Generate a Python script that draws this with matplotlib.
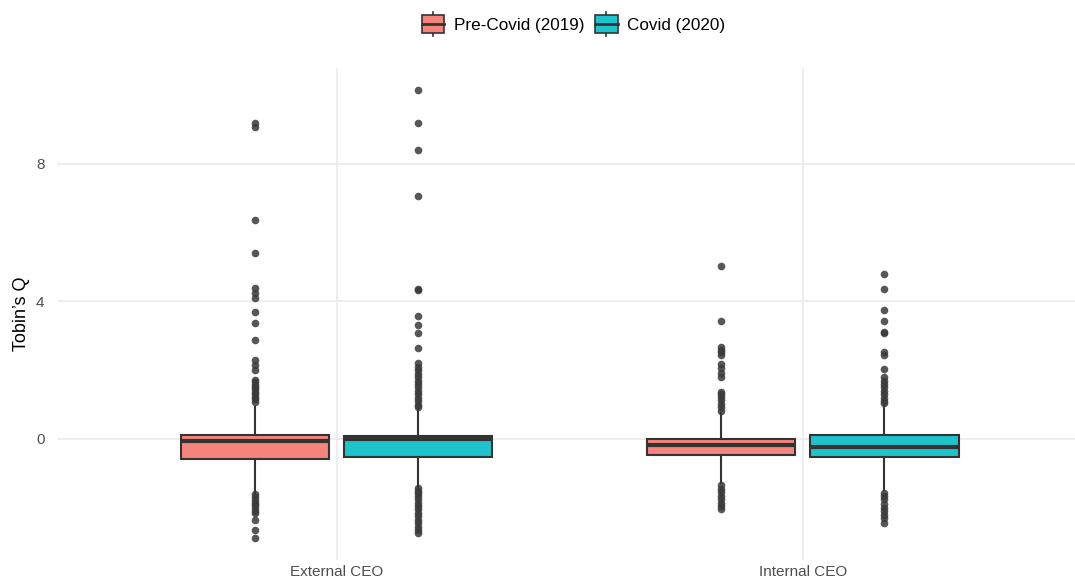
import matplotlib
matplotlib.use("Agg")
import matplotlib.pyplot as plt
from matplotlib.legend_handler import HandlerBase
from matplotlib.patches import Rectangle
from matplotlib.lines import Line2D

plt.rcParams["font.family"] = ["Liberation Sans", "DejaVu Sans"]

# Groups and periods.
groups = ["External CEO", "Internal CEO"]
periods = ["Pre-Covid (2019)", "Covid (2020)"]
colors = ["#F5847C", "#1EC4CB"]

# Box summaries: lower whisker, Q1, median, Q3, upper whisker.
ext_pre_box = [-1.57, -0.58, -0.06, 0.11, 0.93]
ext_cov_box = [-1.39, -0.52, 0.00, 0.08, 0.86]
int_pre_box = [-1.29, -0.47, -0.17, 0.01, 0.77]
int_cov_box = [-1.48, -0.52, -0.23, 0.11, 1.02]

# Outliers.
ext_pre_out = [9.19, 9.07, 6.37, 5.42, 4.38, 4.25, 4.10, 3.70, 3.37, 2.88,
               2.30, 2.15, 2.00, 1.72, 1.65, 1.58, 1.52, 1.45, 1.38, 1.30,
               1.22, 1.15, 1.08,
               -1.60, -1.70, -1.78, -1.85, -1.92, -2.00, -2.08, -2.15,
               -2.35, -2.65, -2.88]
ext_cov_out = [10.15, 9.20, 8.40, 7.07, 4.36, 4.32, 3.57, 3.31, 3.08, 2.64,
               2.20, 2.10, 2.00, 1.90, 1.80, 1.70, 1.60, 1.50, 1.40, 1.30,
               1.20, 1.10, 1.00, 0.92,
               -1.42, -1.50, -1.58, -1.66, -1.75, -1.85, -1.95, -2.05,
               -2.15, -2.25, -2.35, -2.45, -2.55, -2.65, -2.73]
int_pre_out = [5.03, 3.42, 2.68, 2.60, 2.52, 2.44, 2.18, 2.05, 1.92, 1.80,
               1.38, 1.30, 1.22, 1.12, 1.02, 0.92, 0.82,
               -1.34, -1.45, -1.55, -1.65, -1.75, -1.85, -1.95, -2.05]
int_cov_out = [4.80, 4.35, 3.75, 3.43, 3.12, 3.08, 2.54, 2.44, 2.03, 1.80,
               1.70, 1.60, 1.50, 1.40, 1.30, 1.20, 1.10, 1.04,
               -1.57, -1.65, -1.75, -1.90, -2.00, -2.10, -2.20, -2.30, -2.44]

yticks = [0, 4, 8]


def make_stats(box, out):
    lo, q1, med, q3, hi = box
    return dict(whislo=lo, q1=q1, med=med, q3=q3, whishi=hi, fliers=out)


class BoxKeyHandler(HandlerBase):
    """Draws a small boxplot glyph as legend key."""

    def __init__(self, color):
        super().__init__()
        self.color = color

    def create_artists(self, legend, orig_handle, xdescent, ydescent,
                       width, height, fontsize, trans):
        cx = width / 2 - xdescent
        bw = width * 0.95
        top = height * 1.2 - ydescent
        bot = -height * 0.2 - ydescent
        stub = height * 0.17
        rect = Rectangle((cx - bw / 2, bot + stub), bw,
                         (top - bot) - 2 * stub,
                         facecolor=self.color, edgecolor="#333333",
                         lw=1.2, transform=trans)
        whisk = Line2D([cx, cx], [bot, top], color="#333333", lw=1.2,
                       transform=trans)
        mid = (top + bot) / 2
        med = Line2D([cx - bw / 2, cx + bw / 2], [mid, mid],
                     color="#333333", lw=2, transform=trans)
        return [whisk, rect, med]


fig = plt.figure(figsize=(10.75, 5.88), dpi=100)
ax = fig.add_axes([0.053, 0.047, 0.954, 0.838])

offset = 0.175
width = 0.318
all_stats = [[make_stats(ext_pre_box, ext_pre_out),
              make_stats(int_pre_box, int_pre_out)],
             [make_stats(ext_cov_box, ext_cov_out),
              make_stats(int_cov_box, int_cov_out)]]

for k, (stats, col) in enumerate(zip(all_stats, colors)):
    pos = [i + 1 + (k - 0.5) * 2 * offset for i in range(len(groups))]
    ax.bxp(stats, positions=pos, widths=width, patch_artist=True,
           showcaps=False, manage_ticks=False,
           boxprops=dict(facecolor=col, edgecolor="#333333", lw=1.5),
           whiskerprops=dict(color="#333333", lw=1.5),
           medianprops=dict(color="#333333", lw=3),
           flierprops=dict(marker="o", markerfacecolor="#3A3A3A",
                           markeredgecolor="none", markersize=5.5,
                           alpha=0.85),
           zorder=3)

ax.set_xlim(0.4, 2.6)
ax.set_ylim(-3.53, 10.8)
ax.set_xticks([1, 2])
ax.set_xticklabels(groups)
ax.set_yticks(yticks)
ax.set_yticklabels([str(t) for t in yticks])
ax.tick_params(length=0, labelsize=11, colors="#4D4D4D")
ax.tick_params(axis="y", pad=9)
ax.grid(True, color="#EBEBEB", lw=1.2, zorder=0)
ax.set_axisbelow(True)
for s in ax.spines.values():
    s.set_visible(False)
ax.set_ylabel("Tobin\u2019s Q", fontsize=13, color="black", labelpad=4)

handles = [Rectangle((0, 0), 1, 1) for _ in periods]
fig.legend(handles, periods, loc="upper center",
           bbox_to_anchor=(0.533, 1.0), ncol=2, frameon=False,
           fontsize=12.3, handlelength=1.4, handleheight=1.2,
           handletextpad=0.5, columnspacing=0.6,
           handler_map={h: BoxKeyHandler(c)
                        for h, c in zip(handles, colors)})

fig.savefig("out.png", dpi=100)
